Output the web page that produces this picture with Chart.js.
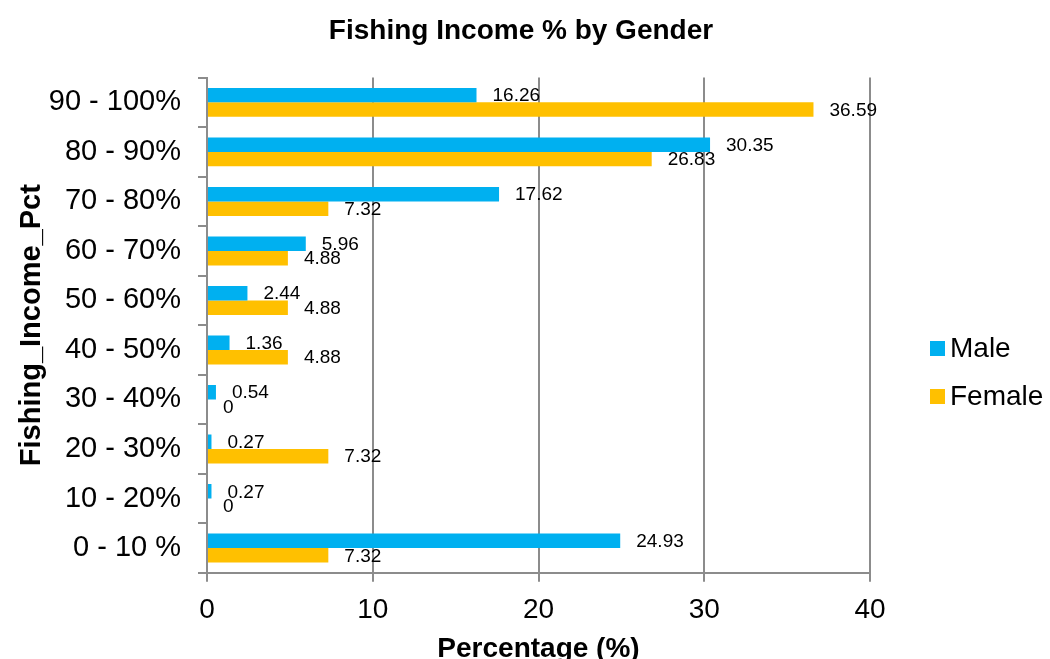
<!DOCTYPE html>
<html>
<head>
<meta charset="utf-8">
<script src="https://cdn.jsdelivr.net/npm/chart.js@4.4.1/dist/chart.umd.min.js"></script>
<style>
  html, body { margin: 0; padding: 0; background: #fff; overflow: hidden; }
</style>
</head>
<body>
<canvas id="my-chart" width="1050" height="670"></canvas>
<script>
var categories = ['90 - 100%', '80 - 90%', '70 - 80%', '60 - 70%', '50 - 60%',
                  '40 - 50%', '30 - 40%', '20 - 30%', '10 - 20%', '0 - 10 %'];
var male = [16.26, 30.35, 17.62, 5.96, 2.44, 1.36, 0.54, 0.27, 0.27, 24.93];
var female = [36.59, 26.83, 7.32, 4.88, 4.88, 4.88, 0, 7.32, 0, 7.32];
var xTicks = [0, 10, 20, 30, 40];

var FONT = "'Liberation Sans', Arial, sans-serif";
var gray = '#8c8c8c';

// value labels just past the end of each bar
var barLabels = {
	id: 'barLabels',
	afterDatasetsDraw: function(chart) {
		var ctx = chart.ctx;
		ctx.save();
		ctx.font = '19px ' + FONT;
		ctx.fillStyle = '#000';
		ctx.textAlign = 'left';
		ctx.textBaseline = 'middle';
		chart.data.datasets.forEach(function(ds, i) {
			chart.getDatasetMeta(i).data.forEach(function(bar, j) {
				ctx.fillText(String(ds.data[j]), bar.x + 16, bar.y + 1);
			});
		});
		ctx.restore();
	}
};

// legend on the right, drawn from the datasets
var sideLegend = {
	id: 'sideLegend',
	afterDraw: function(chart) {
		var ctx = chart.ctx;
		ctx.save();
		ctx.font = '28px ' + FONT;
		ctx.textBaseline = 'middle';
		ctx.textAlign = 'left';
		chart.data.datasets.forEach(function(ds, i) {
			var y = 348 + i * 48;
			ctx.fillStyle = ds.backgroundColor;
			ctx.fillRect(930, y - 7, 15, 15);
			ctx.fillStyle = '#000';
			ctx.fillText(ds.label, 950, y + 1);
		});
		ctx.restore();
	}
};

var data = {
	labels: categories,
	datasets: [{
		label: 'Male',
		data: male,
		backgroundColor: '#00B0F0',
		borderWidth: 0
	}, {
		label: 'Female',
		data: female,
		backgroundColor: '#FFC000',
		borderWidth: 0
	}]
};

var options = {
	indexAxis: 'y',
	responsive: false,
	animation: false,
	layout: {
		padding: { left: 0, right: 8, top: 0, bottom: 0 }
	},
	datasets: {
		bar: { categoryPercentage: 0.585, barPercentage: 1 }
	},
	plugins: {
		legend: { display: false },
		tooltip: { enabled: false },
		title: {
			display: true,
			text: 'Fishing Income % by Gender',
			color: '#000',
			font: { family: FONT, size: 28, weight: 'bold' },
			padding: { top: 14, bottom: 30 }
		}
	},
	scales: {
		x: {
			min: 0,
			max: 40,
			afterBuildTicks: function(axis) {
				axis.ticks = xTicks.map(function(v) { return { value: v }; });
			},
			// room on the right for the legend
			afterFit: function(axis) { axis.paddingRight = 180; },
			grid: { color: gray, lineWidth: 2, tickLength: 9, drawTicks: true },
			border: { color: gray, width: 2 },
			ticks: {
				color: '#000',
				padding: 12,
				font: { family: FONT, size: 28 }
			},
			title: {
				display: true,
				text: 'Percentage (%)',
				color: '#000',
				font: { family: FONT, size: 28, weight: 'bold' },
				padding: { top: -7, bottom: 4 }
			}
		},
		y: {
			afterFit: function(axis) { axis.width = 207; },
			grid: { color: gray, lineWidth: 2, tickLength: 9, offset: true, drawOnChartArea: false },
			border: { color: gray, width: 2 },
			ticks: {
				color: '#000',
				padding: 17,
				font: { family: FONT, size: 29 }
			},
			title: {
				display: true,
				text: 'Fishing_Income_Pct',
				color: '#000',
				font: { family: FONT, size: 29, weight: 'bold' },
				padding: { top: 15, bottom: 0 }
			}
		}
	}
};

var ctx = document.getElementById('my-chart');
var myBarChart = new Chart(ctx, {
	type: 'bar',
	data: data,
	options: options,
	plugins: [barLabels, sideLegend]
});
</script>
</body>
</html>
